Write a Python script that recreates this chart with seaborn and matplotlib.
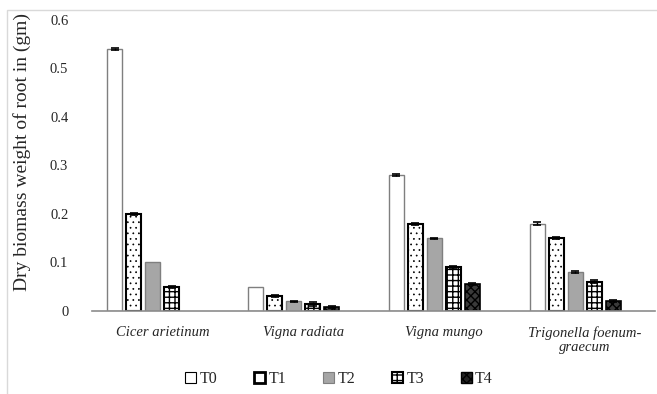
import numpy as np
import pandas as pd
import matplotlib
matplotlib.use("Agg")
import matplotlib.pyplot as plt
import seaborn as sns
from matplotlib.patches import Patch, Rectangle

species = ["Cicer arietinum", "Vigna radiata", "Vigna mungo", "Trigonella foenum-\ngraecum"]
treatments = ["T0", "T1", "T2", "T3", "T4"]
t0 = [0.54, 0.05, 0.28, 0.18]
t1 = [0.20, 0.03, 0.18, 0.15]
t2 = [0.10, 0.02, 0.15, 0.08]
t3 = [0.05, 0.015, 0.09, 0.06]
t4 = [0.0, 0.008, 0.055, 0.02]
e0 = [0.002, 0.0, 0.002, 0.003]
e1 = [0.002, 0.002, 0.002, 0.002]
e2 = [0.0, 0.001, 0.001, 0.002]
e3 = [0.002, 0.004, 0.002, 0.003]
e4 = [0.0, 0.002, 0.002, 0.002]
yticks = [0, 0.1, 0.2, 0.3, 0.4, 0.5, 0.6]

vals = [t0, t1, t2, t3, t4]
errs = [e0, e1, e2, e3, e4]
rows = []
for t, v in zip(treatments, vals):
    for s, x in zip(species, v):
        rows.append({"species": s, "treatment": t, "value": x})
# hidden sixth series (empty slot, as in the original chart)
for s in species:
    rows.append({"species": s, "treatment": "T5", "value": 0.0})
df = pd.DataFrame(rows)

sns.set_theme(style="white")
plt.rcParams["font.family"] = ["Liberation Serif", "DejaVu Serif"]
plt.rcParams["hatch.linewidth"] = 1.0

fig = plt.figure(figsize=(6.57, 3.94), dpi=100)
ax = fig.add_axes([0.140, 0.2107, 0.857, 0.7386])

levels = treatments + ["T5"]
pal = {"T0": "white", "T1": "white", "T2": "#a6a6a6", "T3": "white", "T4": "#3a3a3a", "T5": "white"}
sns.barplot(data=df, x="species", y="value", hue="treatment",
            hue_order=levels, palette=pal, width=0.81, gap=0.2,
            errorbar=None, legend=False, ax=ax)

styles = {
    "T0": dict(edgecolor="#7f7f7f", linewidth=1.0, hatch=None, hlw=1.0),
    "T1": dict(edgecolor="black", linewidth=1.5, hatch="...", hlw=0.5),
    "T2": dict(edgecolor="#7f7f7f", linewidth=1.0, hatch=None, hlw=1.0),
    "T3": dict(edgecolor="black", linewidth=1.5, hatch="+++", hlw=1.0),
    "T4": dict(edgecolor="black", linewidth=1.2, hatch="xxxx", hlw=1.0),
}
bar_containers = list(ax.containers)
for i, cont in enumerate(bar_containers):
    lvl = levels[i]
    for j, p in enumerate(cont.patches):
        if lvl == "T5" or p.get_height() == 0:
            p.set_visible(False)
            continue
        st = styles[lvl]
        p.set_edgecolor(st["edgecolor"])
        p.set_linewidth(st["linewidth"])
        if st["hatch"]:
            p.set_hatch(st["hatch"])
            try:
                p.set_hatch_linewidth(st["hlw"])
            except Exception:
                pass
        e = errs[i][j]
        if e > 0:
            xc = p.get_x() + p.get_width() / 2
            ax.errorbar(xc, p.get_height(), yerr=e, fmt="none", ecolor="black",
                        elinewidth=1.0, capsize=3, capthick=1.2, zorder=5)

ax.set_ylim(0, 0.6)
ax.set_xlim(-0.5, 3.5)
ax.set_yticks(yticks)
ax.set_yticklabels(["0", "0.1", "0.2", "0.3", "0.4", "0.5", "0.6"], fontsize=10.5)
ax.tick_params(axis="y", length=0, pad=17)
ax.tick_params(axis="x", length=0, pad=11)
for lab in ax.get_xticklabels():
    lab.set_fontstyle("italic")
    lab.set_fontsize(10.5)
    lab.set_linespacing(1.1)
ax.set_xlabel("")
ax.set_ylabel("Dry biomass weight of root in (gm)", fontsize=14)
ax.yaxis.set_label_coords(-0.108, 0.545)
for sp in ["top", "right", "left"]:
    ax.spines[sp].set_visible(False)
ax.spines["bottom"].set_color("#8c8c8c")
ax.spines["bottom"].set_linewidth(1.2)

handles = [
    Patch(facecolor="white", edgecolor="black", linewidth=0.8),
    Patch(facecolor="white", edgecolor="black", linewidth=2.0),
    Patch(facecolor="#a6a6a6", edgecolor="#7f7f7f", linewidth=0.8),
    Patch(facecolor="white", edgecolor="black", linewidth=1.5, hatch="+++"),
    Patch(facecolor="#222222", edgecolor="black", linewidth=1.0, hatch="xxxx"),
]
fig.legend(handles, treatments, loc="center", bbox_to_anchor=(0.516, 0.038), ncol=5,
           frameon=False, fontsize=11.5, handlelength=0.7, handleheight=0.7,
           handletextpad=0.2, columnspacing=2.3)

fig.patches.append(Rectangle((0.0107, -0.01), 1.0, 0.9846, transform=fig.transFigure,
                             fill=False, edgecolor="#d9d9d9", linewidth=1.0))

fig.savefig("out.png", dpi=100)
